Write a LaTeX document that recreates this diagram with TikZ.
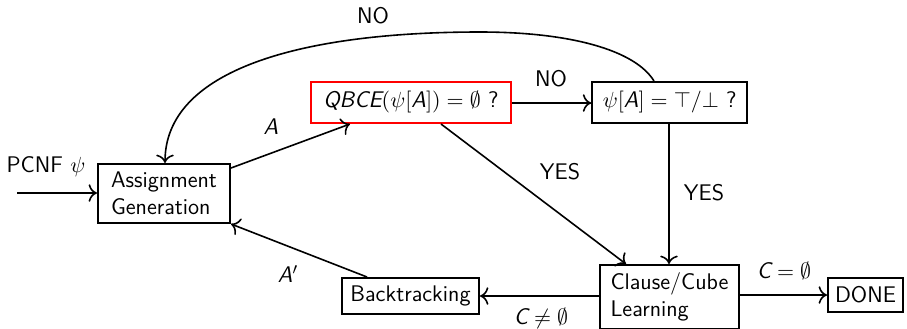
\documentclass[tikz,border=0pt]{standalone}
\usepackage{amssymb}
\usetikzlibrary{arrows.meta}
\begin{document}
\begin{tikzpicture}[x=0.5pt,y=-0.5pt,
  every node/.style={font=\fontsize{11.3}{13.5}\selectfont\sffamily},
  box/.style={draw,line width=1pt,inner sep=0pt,align=left},
  lbl/.style={inner sep=0pt},
  conn/.style={-{To[scale=1.25]},line width=0.8pt}]
\useasboundingbox (0,0) rectangle (907,328);
\node[box,minimum width=66pt,minimum height=29.5pt] (ag) at (164,193.5) {Assignment\\Generation};
\node[box,draw=red,minimum width=100pt,minimum height=20.5pt] (qb) at (411,102.5) {$\textsf{\itshape QBCE}(\psi[\textsf{\itshape A}])=\emptyset$ ?};
\node[box,minimum width=77.5pt,minimum height=20.5pt] (ps) at (669.75,102.5) {$\psi[\textsf{\itshape A}]=\top/\bot$ ?};
\node[box,minimum width=69.5pt,minimum height=32pt] (cl) at (669.5,297) {Clause/Cube\\Learning};
\node[box,minimum width=68.5pt,minimum height=18pt] (bt) at (410.5,296) {Backtracking};
\node[box,minimum width=37.5pt,minimum height=17pt] (dn) at (865.5,295) {DONE};
\coordinate (in) at (17,193);
\node[lbl] (pcnf) at (46,167) {PCNF $\psi$};
\draw[conn] (in) -- (in -| ag.west);
\draw[conn] (ag.east |- 0,168) -- (qb.south west -| 350,0);
\node[lbl] (la) at (271,127) {\textsf{\itshape A}};
\draw[conn] (qb.east |- 0,103) -- (ps.west |- 0,103);
\node[lbl] (lno1) at (551,79) {NO};
\draw[conn] (qb.south -| 441,0) -- (cl.north -| 626,0);
\node[lbl] (lyes1) at (560,172) {YES};
\draw[conn] (ps.south -| 669,0) -- (cl.north -| 669,0);
\node[lbl] (lyes2) at (704,193) {YES};
\draw[conn] (cl.west |- 0,296) -- (bt.east |- 0,296);
\node[lbl] (lcne) at (541,318) {$\textsf{\itshape C}\neq\emptyset$};
\draw[conn] (cl.east |- 0,295) -- (dn.west |- 0,295);
\node[lbl] (lce) at (784,271) {$\textsf{\itshape C}=\emptyset$};
\draw[conn] (bt.north -| 367,0) -- (ag.south east);
\node[lbl] (lap) at (288,274) {\textsf{\itshape A}$'$};
\coordinate (top) at (480,32);
\draw[conn] (ps.north -| 654,0) .. controls (635,50) and (570,32) .. (top)
   .. controls (300,32) and (165,70) .. (ag.north -| 165,0);
\node[lbl] (lno2) at (373,16) {NO};
\end{tikzpicture}
\end{document}
